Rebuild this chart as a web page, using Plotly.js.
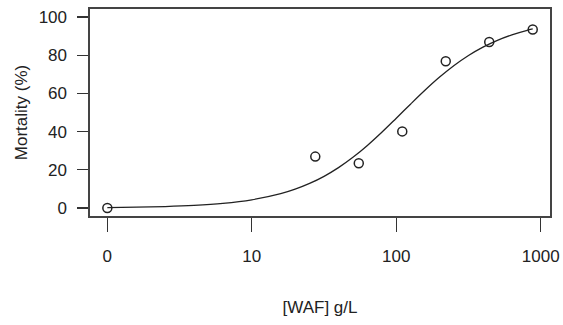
<!DOCTYPE html>
<html>
<head>
<meta charset="utf-8">
<script src="https://cdn.plot.ly/plotly-3.0.1.min.js"></script>
<style>html,body{margin:0;padding:0;background:#fff;}#chart{width:563px;height:325px;}</style>
</head>
<body>
<div id="chart"></div>
<script>
// Observed mortality points (x = 1 stands for the control, labelled "0")
var obsConc = [1, 27.5, 55, 110, 220, 440, 880];
var obsMortality = [0, 26.9, 23.4, 40.1, 76.8, 86.9, 93.5];

// Fitted curve
var fitConc = [1, 1.585, 2.512, 3.981, 6.31, 10, 15.85, 19.95, 25.12, 31.62, 39.81, 50.12, 63.1, 79.43, 100, 125.9, 158.5, 199.5, 251.2, 316.2, 398.1, 501.2, 631, 794.3, 880];
var fitMortality = [0.22, 0.4, 0.73, 1.33, 2.39, 4.26, 7.49, 9.84, 12.84, 16.57, 21.13, 26.55, 32.77, 39.67, 47.01, 54.48, 61.75, 68.53, 74.6, 79.85, 84.24, 87.82, 90.68, 92.92, 93.74];

var xTickVals = [1, 10, 100, 1000];
var xTickText = ['0', '10', '100', '1000'];
var yTickVals = [0, 20, 40, 60, 80, 100];

var FONT = '"Liberation Sans", Arial, sans-serif';

var traces = [
  {
    x: fitConc, y: fitMortality, type: 'scatter', mode: 'lines',
    line: {color: '#222', width: 1.3, shape: 'spline'},
    hoverinfo: 'skip', showlegend: false
  },
  {
    x: obsConc, y: obsMortality, type: 'scatter', mode: 'markers',
    marker: {symbol: 'circle-open', size: 9, color: '#222', line: {width: 1.5, color: '#222'}},
    showlegend: false
  }
];

var layout = {
  width: 563, height: 325,
  margin: {l: 90, r: 13, t: 9, b: 109},
  paper_bgcolor: '#fff', plot_bgcolor: '#fff',
  font: {family: FONT, size: 17, color: '#222'},
  xaxis: {
    type: 'log', range: [-0.12, 3.064],
    tickvals: xTickVals, ticktext: xTickText,
    ticks: 'outside', ticklen: 14, tickwidth: 1.3, tickcolor: '#333',
    ticklabelstandoff: 10,
    showgrid: false, zeroline: false,
    showline: true, mirror: true, linecolor: '#444', linewidth: 1.6,
    title: {text: '[WAF] g/L', font: {family: FONT, size: 17, color: '#222'}, standoff: 36},
    automargin: false
  },
  yaxis: {
    range: [-4.2, 104.2],
    tickvals: yTickVals,
    ticks: 'outside', ticklen: 11, tickwidth: 1.3, tickcolor: '#333',
    ticklabelstandoff: 7,
    showgrid: false, zeroline: false,
    showline: true, mirror: true, linecolor: '#444', linewidth: 1.6,
    title: {text: 'Mortality (%)', font: {family: FONT, size: 17, color: '#222'}, standoff: 6},
    automargin: false
  }
};

Plotly.newPlot('chart', traces, layout, {displayModeBar: false, staticPlot: true});
</script>
</body>
</html>
